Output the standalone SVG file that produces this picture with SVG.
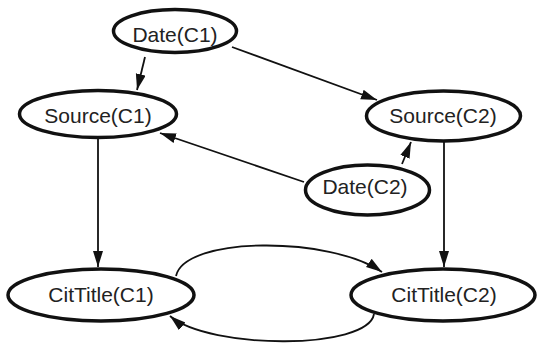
<svg xmlns="http://www.w3.org/2000/svg" width="537" height="343" viewBox="0 0 537 343">
<style>
.node ellipse{fill:#fff;stroke:#111;stroke-width:3.5}
.node text{font-family:"Liberation Sans",Arial,sans-serif;font-size:21px;fill:#222;text-anchor:middle}
.edge{fill:none;stroke:#111;stroke-width:1.8;marker-end:url(#arr)}
</style>
<defs>
<marker id="arr" markerUnits="userSpaceOnUse" markerWidth="18" markerHeight="12" refX="16" refY="5" orient="auto">
<path d="M0,0 L16,5 L0,10 Z" fill="#111"/>
</marker>
</defs>
<g id="edges">
<path class="edge" d="M145,57 L137,90"/>
<path class="edge" d="M232,47 L377,100"/>
<path class="edge" d="M304,182 L160,133"/>
<path class="edge" d="M402,164 L411,142"/>
<path class="edge" d="M98,138 L98,267"/>
<path class="edge" d="M444,141 L444,267"/>
<path class="edge" d="M176,276 C185,236 330,236 382,272"/>
<path class="edge" d="M374,314 C368,350 210,350 170,316"/>
</g>
<g id="date_c1" class="node"><ellipse cx="175" cy="31" rx="61.5" ry="21.5"/><text x="175" y="42">Date(C1)</text></g>
<g id="source_c1" class="node"><ellipse cx="98" cy="114" rx="78.5" ry="23.5"/><text x="98" y="123">Source(C1)</text></g>
<g id="source_c2" class="node"><ellipse cx="443.5" cy="116" rx="77" ry="25"/><text x="443" y="123">Source(C2)</text></g>
<g id="date_c2" class="node"><ellipse cx="367.5" cy="190" rx="62" ry="25"/><text x="365" y="194">Date(C2)</text></g>
<g id="cittitle_c1" class="node"><ellipse cx="101" cy="295" rx="93" ry="26"/><text x="101" y="302">CitTitle(C1)</text></g>
<g id="cittitle_c2" class="node"><ellipse cx="443" cy="295" rx="92" ry="26"/><text x="444" y="302">CitTitle(C2)</text></g>
</svg>
